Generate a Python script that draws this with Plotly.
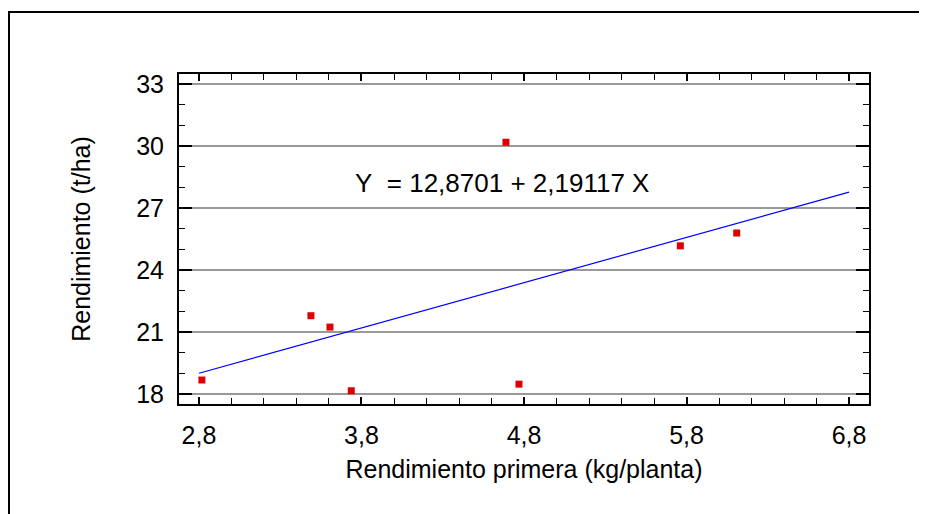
import plotly.graph_objects as go

# Data
x_vals = [2.818, 3.489, 3.606, 3.737, 4.689, 4.769, 5.762, 6.109]
y_vals = [18.68, 21.79, 21.24, 18.16, 30.18, 18.48, 25.17, 25.79]
fit_x = [2.8, 6.8]
intercept = 12.8701
slope = 2.19117
fit_y = [intercept + slope * v for v in fit_x]
x_ticks = [2.8, 3.8, 4.8, 5.8, 6.8]
y_ticks = [18, 21, 24, 27, 30, 33]
equation = "Y\u00a0 = 12,8701 + 2,19117 X"

FONT = "Liberation Sans, Arial, sans-serif"

# page body has an 8px offset; figure laid out accordingly
L, T, PW, PH = 171, 66, 690, 330
W, H = 919, 506

fig = go.Figure()
fig.add_trace(go.Scatter(x=fit_x, y=fit_y, mode="lines",
                         line=dict(color="#0000ff", width=1.2), hoverinfo="skip"))
fig.add_trace(go.Scatter(x=x_vals, y=y_vals, mode="markers",
                         marker=dict(symbol="square", size=7, color="#dd0000",
                                     line=dict(width=0))))

fig.update_layout(
    width=W, height=H,
    margin=dict(l=L, r=W - L - PW, t=T, b=H - T - PH, autoexpand=False),
    paper_bgcolor="white", plot_bgcolor="white",
    showlegend=False,
    separators=",.",
    font=dict(family=FONT, size=25, color="black"),
)

fig.update_xaxes(
    range=[2.677, 6.923],
    tickvals=x_ticks, tickformat=".1f",
    ticks="inside", ticklen=7, tickwidth=1.5, tickcolor="black",
    minor=dict(dtick=0.2, tick0=2.8, ticks="inside", ticklen=6, tickwidth=1, tickcolor="black", showgrid=False),
    showline=True, linecolor="black", linewidth=2, mirror="ticks",
    showgrid=False, zeroline=False,
    ticklabelstandoff=8,
    tickfont=dict(size=25),
    title=dict(text="Rendimiento primera (kg/planta)", font=dict(size=25), standoff=12),
)
fig.update_yaxes(
    range=[17.52, 33.48],
    tickvals=y_ticks,
    ticks="inside", ticklen=13, tickwidth=2, tickcolor="black",
    minor=dict(dtick=1, tick0=18, ticks="inside", ticklen=6, tickwidth=1, tickcolor="black", showgrid=False),
    showline=True, linecolor="black", linewidth=2, mirror="ticks",
    showgrid=True, gridcolor="#999999", gridwidth=1.5, zeroline=False,
    ticklabelstandoff=8,
    tickfont=dict(size=25),
    title=dict(text="Rendimiento (t/ha)", font=dict(size=25), standoff=38),
)

fig.add_annotation(x=4.665, y=28.21, xref="x", yref="y", text=equation,
                   showarrow=False, font=dict(size=26, color="black"))

# outer frame
fig.add_shape(type="rect", xref="paper", yref="paper",
              x0=(1 - L) / PW, x1=(915 - L) / PW,
              y0=(T + PH - 540) / PH, y1=(T + PH - 4) / PH,
              line=dict(color="black", width=2), fillcolor="rgba(0,0,0,0)", layer="below")

fig.write_html("out.html")
